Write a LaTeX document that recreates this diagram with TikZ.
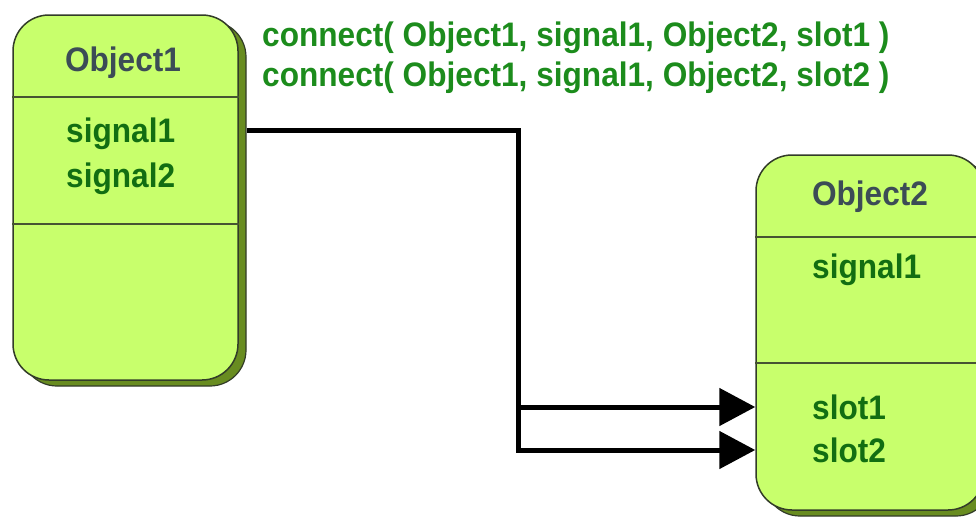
\documentclass[tikz,border=0pt]{standalone}
\usepackage{fontspec}
\setmainfont{Liberation Sans}[FakeStretch=0.93]
\usetikzlibrary{arrows.meta,shadows}
\definecolor{limefill}{RGB}{200,255,108}
\definecolor{olivedark}{RGB}{104,140,32}
\definecolor{edgegray}{RGB}{50,60,40}
\definecolor{dividergray}{RGB}{70,84,50}
\definecolor{membergreen}{RGB}{18,110,18}
\definecolor{codegreen}{RGB}{28,140,28}
\definecolor{titlegray}{RGB}{60,76,86}

\begin{document}
\begin{tikzpicture}[x=1pt,y=-1pt,
  objbox/.style={rectangle, rounded corners=36pt, draw=edgegray, line width=1.5pt,
    fill=limefill, inner sep=0pt,
    copy shadow={shadow xshift=8pt, shadow yshift=-6pt, fill=olivedark,
      draw=edgegray, line width=1.2pt}},
  bigfont/.style={font=\fontsize{34}{40}\selectfont\bfseries},
  titletext/.style={bigfont, text=titlegray, inner sep=0pt, anchor=base},
  membertext/.style={bigfont, text=membergreen, inner sep=0pt, anchor=west,
    text height=24pt, text depth=0pt},
  codetext/.style={bigfont, text=codegreen, inner sep=0pt, anchor=base west},
  divider/.style={draw=dividergray, line width=1.5pt},
  conn/.style={draw=black, line width=5pt,
    -{Triangle[length=36pt,width=37pt]}}
]
\path[use as bounding box] (0,0) rectangle (976,522);
\clip (0,0) rectangle (976,522);

% sender object
\node[objbox, minimum width=225pt, minimum height=365pt] (o1) at (125.5,197.5) {};
\draw[divider] (o1.west |- 0,97) -- (o1.east |- 0,97);
\draw[divider] (o1.west |- 0,224) -- (o1.east |- 0,224);
\node[titletext] (o1title) at (123,71) {Object1};
\node[membertext] (o1sig1) at (66,130) {signal1};
\node[membertext] (o1sig2) at (66,175) {signal2};

% receiver object
\node[objbox, minimum width=228pt, minimum height=355pt] (o2) at (870,332.5) {};
\draw[divider] (o2.west |- 0,237) -- (o2.east |- 0,237);
\draw[divider] (o2.west |- 0,363) -- (o2.east |- 0,363);
\node[titletext] (o2title) at (870,205) {Object2};
\node[membertext] (o2sig1) at (812,266) {signal1};
\node[membertext] (o2slot1) at (812,407) {slot1};
\node[membertext] (o2slot2) at (812,450) {slot2};

% connect() calls
\node[codetext] (call1) at (262,46) {connect( Object1, signal1, Object2, slot1 )};
\node[codetext] (call2) at (262,86) {connect( Object1, signal1, Object2, slot2 )};

% signal-slot connections
\coordinate (src) at ([xshift=8pt]o1.east |- o1sig1);
\coordinate (bend) at (518,0);
\draw[conn] (src) -| (bend |- o2slot1) -- (o2.west |- o2slot1);
\draw[conn] (bend |- o2slot1) -- (bend |- o2slot2) -- (o2.west |- o2slot2);
\end{tikzpicture}
\end{document}
